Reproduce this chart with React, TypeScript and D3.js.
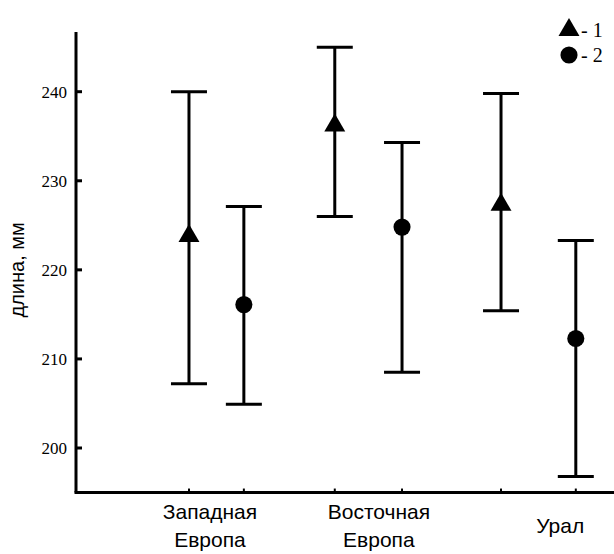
import React, { useEffect, useRef } from "react";
import * as d3 from "d3";

// группы по оси X
const groups = ["Западная Европа", "Восточная Европа", "Урал"];
const groupLabelPos = [0.249, 0.563, 0.9];

// серия 1 (треугольники), серия 2 (круги)
const seriesIds = [1, 2];
const pos1 = [0.21, 0.481, 0.79];
const pos2 = [0.312, 0.606, 0.929];
const mean1 = [223.8, 236.2, 227.3];
const low1 = [207.2, 226.0, 215.4];
const high1 = [240.0, 245.0, 239.8];
const mean2 = [216.1, 224.8, 212.3];
const low2 = [204.9, 208.5, 196.8];
const high2 = [227.1, 234.3, 223.3];

const yTicks = [200, 210, 220, 230, 240];
const yAxisExtent = [195, 246.7];
const yTitle = "длина, мм";

export default function App() {
  const ref = useRef<SVGSVGElement>(null);

  useEffect(() => {
    if (!ref.current) return;
    const svg = d3.select(ref.current);
    svg.selectAll("*").remove();

    const W = 614;
    const x = d3.scaleLinear().domain([0, 1]).range([76, 614]);
    const y = d3.scaleLinear().domain([200, 240]).range([448, 91.7]);

    const g = svg.append("g");

    // оси
    const yTop = y(yAxisExtent[1]);
    const yBot = y(yAxisExtent[0]);
    g.append("line")
      .attr("x1", x(0)).attr("x2", x(0))
      .attr("y1", yTop).attr("y2", yBot)
      .attr("stroke", "#000").attr("stroke-width", 3);
    g.append("line")
      .attr("x1", x(0) - 1.5).attr("x2", W)
      .attr("y1", yBot).attr("y2", yBot)
      .attr("stroke", "#000").attr("stroke-width", 3);

    // деления Y (внутрь)
    yTicks.forEach((t) => {
      g.append("line")
        .attr("x1", x(0)).attr("x2", x(0) + 6)
        .attr("y1", y(t)).attr("y2", y(t))
        .attr("stroke", "#000").attr("stroke-width", 3);
      g.append("text")
        .attr("x", x(0) - 9)
        .attr("y", y(t))
        .attr("dy", "0.35em")
        .attr("text-anchor", "end")
        .attr("font-family", "Liberation Serif, Times New Roman, serif")
        .attr("font-size", 17)
        .text(t);
    });

    // деления X в позициях маркеров
    [...pos1, ...pos2].forEach((p) => {
      g.append("line")
        .attr("x1", x(p)).attr("x2", x(p))
        .attr("y1", yBot).attr("y2", yBot - 4)
        .attr("stroke", "#000").attr("stroke-width", 2);
    });

    // подпись оси Y
    g.append("text")
      .attr("transform", `translate(24,${y(220)}) rotate(-90)`)
      .attr("text-anchor", "middle")
      .attr("font-family", "Liberation Sans, Arial, sans-serif")
      .attr("font-size", 20)
      .text(yTitle);

    // подписи групп
    groups.forEach((name, i) => {
      const parts = name.split(" ");
      const t = g.append("text")
        .attr("text-anchor", "middle")
        .attr("font-family", "Liberation Sans, Arial, sans-serif")
        .attr("font-size", 21);
      if (parts.length > 1) {
        parts.forEach((p, j) => {
          t.append("tspan")
            .attr("x", x(groupLabelPos[i]))
            .attr("y", 519 + j * 28)
            .text(p);
        });
      } else {
        t.attr("x", x(groupLabelPos[i])).attr("y", 533).text(name);
      }
    });

    const triangle = d3.symbol(d3.symbolTriangle, 190);
    const circle = d3.symbol(d3.symbolCircle, 230);

    const series = [
      { id: seriesIds[0], pos: pos1, mean: mean1, low: low1, high: high1, cap: 36, sym: triangle },
      { id: seriesIds[1], pos: pos2, mean: mean2, low: low2, high: high2, cap: 36, sym: circle },
    ];

    series.forEach((s) => {
      s.pos.forEach((p, i) => {
        const cx = x(p);
        g.append("line")
          .attr("x1", cx).attr("x2", cx)
          .attr("y1", y(s.low[i])).attr("y2", y(s.high[i]))
          .attr("stroke", "#000").attr("stroke-width", 3);
        [s.low[i], s.high[i]].forEach((v) => {
          g.append("line")
            .attr("x1", cx - s.cap / 2).attr("x2", cx + s.cap / 2)
            .attr("y1", y(v)).attr("y2", y(v))
            .attr("stroke", "#000").attr("stroke-width", 3);
        });
        g.append("path")
          .attr("d", s.sym())
          .attr("transform", `translate(${cx},${y(s.mean[i])})`)
          .attr("fill", "#000");
      });
    });

    // легенда
    const legend = g.append("g").attr("transform", "translate(569,0)");
    series.forEach((s, i) => {
      const ly = 30 + i * 25;
      legend.append("path")
        .attr("d", s.sym())
        .attr("transform", `translate(0,${ly})`)
        .attr("fill", "#000");
      legend.append("text")
        .attr("x", 12)
        .attr("y", ly)
        .attr("dy", "0.35em")
        .attr("font-family", "Liberation Serif, Times New Roman, serif")
        .attr("font-size", 20)
        .text(`- ${s.id}`);
    });
  }, []);

  return (
    <svg
      ref={ref}
      width={614}
      height={554}
      style={{ position: "absolute", left: 0, top: 0, background: "#fff" }}
    />
  );
}
